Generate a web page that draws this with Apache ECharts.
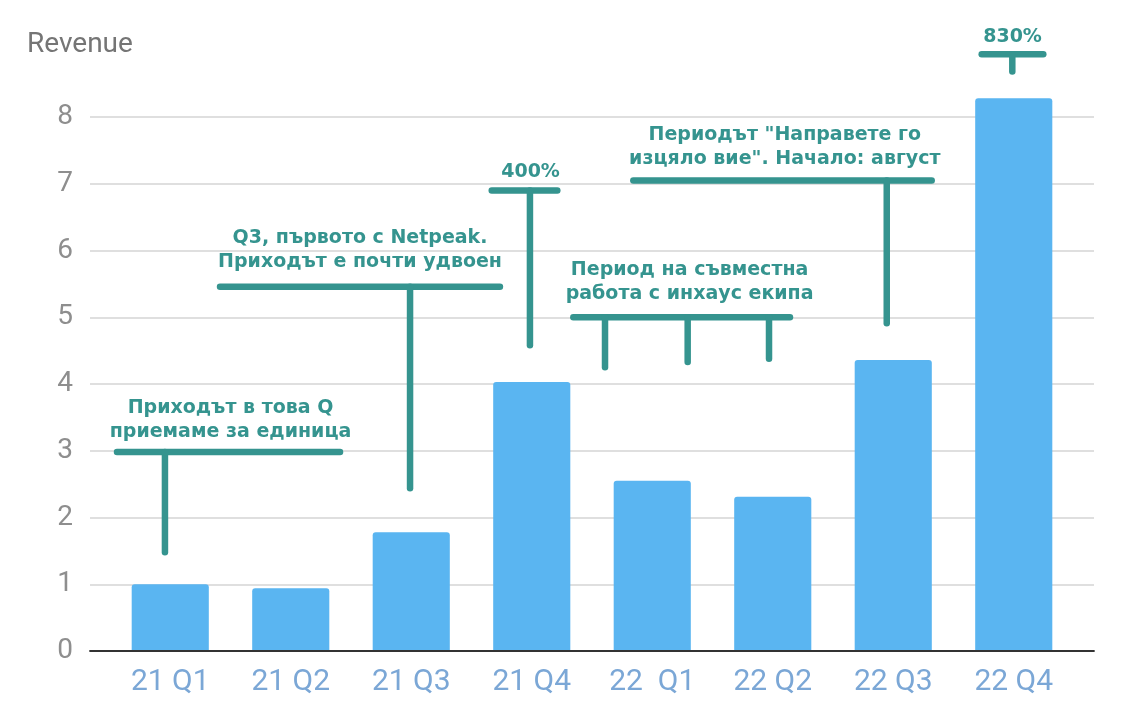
<!DOCTYPE html>
<html>
<head>
<meta charset="utf-8">
<script src="https://cdn.jsdelivr.net/npm/echarts@6/dist/echarts.min.js"></script>
<style>
html,body{margin:0;padding:0;background:#fff;}
#chart{width:1126px;height:727px;}
</style>
</head>
<body>
<div id="chart"></div>
<script>
const categories = ['21 Q1', '21 Q2', '21 Q3', '21 Q4', '22  Q1', '22 Q2', '22 Q3', '22 Q4'];
const revenue = [1.0, 0.94, 1.78, 4.03, 2.55, 2.31, 4.36, 8.28];
const yTicks = [0, 1, 2, 3, 4, 5, 6, 7, 8];

// annotation texts and their anchor (category-unit x, value y)
const noteTexts = [
  'Приходът в това Q\nприемаме за единица',
  'Q3, първото с Netpeak.\nПриходът е почти удвоен',
  '400%',
  'Период на съвместна\nработа с инхаус екипа',
  'Периодът "Направете го\nизцяло вие". Начало: август',
  '830%'
];
const noteAnchors = [[0.50, 3.46], [1.575, 6.0], [2.99, 7.18], [4.31, 5.53], [5.10, 7.556], [6.99, 9.205]];
// horizontal brackets: [xStart, xEnd, y]
const bracketSpans = [[-0.442, 1.409, 2.98], [0.413, 2.736, 5.457], [2.668, 3.212, 6.90], [3.345, 5.143, 5.0], [3.843, 6.319, 7.047], [6.734, 7.245, 8.94]];
// vertical stems: [x, yTop, yBottom]
const stems = [[-0.044, 2.98, 1.48], [1.99, 5.457, 2.44], [2.985, 6.90, 4.58], [3.608, 5.0, 4.25], [4.294, 5.0, 4.33], [4.969, 5.0, 4.38], [5.946, 7.047, 4.909], [6.988, 8.94, 8.68]];

const TEAL = '#35948f';
const chart = echarts.init(document.getElementById('chart'));

const option = {
  animation: false,
  backgroundColor: '#ffffff',
  title: {
    text: 'Revenue', left: 22, top: 26,
    textStyle: { fontSize: 28, color: '#757575', fontWeight: 'normal', fontFamily: 'Roboto' }
  },
  grid: [
    { left: 90, right: 32, top: 117, bottom: 76 },
    { left: 110, right: 52, top: 117, bottom: 76 }
  ],
  xAxis: [
    { type: 'category', gridIndex: 0, data: categories, axisLabel: { show: false }, axisTick: { show: false },
      axisLine: { show: true, lineStyle: { color: '#333333', width: 1.8 } }, z: 5 },
    { type: 'category', gridIndex: 1, data: categories, axisTick: { show: false }, axisLine: { show: false },
      axisLabel: { interval: 0, color: '#7ba7d6', fontSize: 30, fontFamily: 'Roboto', margin: 16 } },
    { type: 'value', gridIndex: 1, min: -0.5, max: 7.5, show: false }
  ],
  yAxis: [
    { type: 'value', gridIndex: 0, min: yTicks[0], max: yTicks[yTicks.length - 1], interval: 1,
      axisLine: { show: false }, axisTick: { show: false },
      axisLabel: { color: '#8e8e8e', fontSize: 28, fontFamily: 'Roboto', margin: 17 },
      splitLine: { lineStyle: { color: '#d4d4d4', width: 1.6 } } },
    { type: 'value', gridIndex: 1, min: yTicks[0], max: yTicks[yTicks.length - 1], interval: 1, show: false }
  ],
  series: [
    {
      type: 'bar', xAxisIndex: 1, yAxisIndex: 1, data: revenue, barWidth: '64%', clip: false,
      itemStyle: { color: '#5ab5f1', borderRadius: [3, 3, 0, 0] }, z: 3
    },
    {
      type: 'custom', xAxisIndex: 2, yAxisIndex: 1, data: bracketSpans, z: 10, clip: false,
      renderItem: function (params, api) {
        const a = api.coord([api.value(0), api.value(2)]);
        const b = api.coord([api.value(1), api.value(2)]);
        return { type: 'line', shape: { x1: a[0], y1: a[1], x2: b[0], y2: b[1] },
          style: { stroke: TEAL, lineWidth: 6.5, lineCap: 'round' } };
      }
    },
    {
      type: 'custom', xAxisIndex: 2, yAxisIndex: 1, data: stems, z: 10, clip: false,
      renderItem: function (params, api) {
        const a = api.coord([api.value(0), api.value(1)]);
        const b = api.coord([api.value(0), api.value(2)]);
        return { type: 'line', shape: { x1: a[0], y1: a[1], x2: b[0], y2: b[1] },
          style: { stroke: TEAL, lineWidth: 6.5, lineCap: 'round' } };
      }
    },
    {
      type: 'custom', xAxisIndex: 2, yAxisIndex: 1, z: 11, clip: false,
      data: noteAnchors.map((p, i) => [p[0], p[1], i]),
      renderItem: function (params, api) {
        const p = api.coord([api.value(0), api.value(1)]);
        return { type: 'text', x: p[0], y: p[1],
          style: { text: noteTexts[api.value(2)], fill: TEAL, fontSize: 19, fontWeight: 'bold',
            fontFamily: 'DejaVu Sans', lineHeight: 24, align: 'center', verticalAlign: 'middle' } };
      }
    }
  ]
};
chart.setOption(option);
</script>
</body>
</html>
